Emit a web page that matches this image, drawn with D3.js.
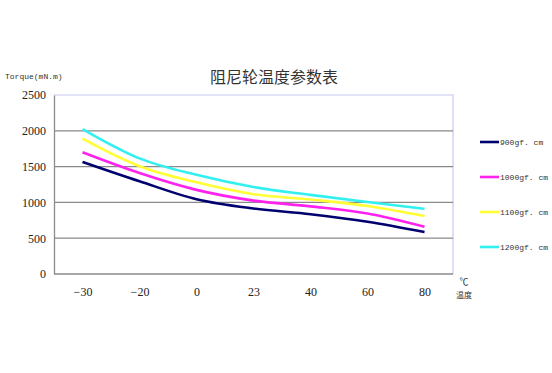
<!DOCTYPE html>
<html>
<head>
<meta charset="utf-8">
<script src="https://cdn.jsdelivr.net/npm/d3@7"></script>
<style>
  body { margin: 0; background: #fff; }
  svg { display: block; }
</style>
</head>
<body>
<div id="chart"></div>
<script>
// temperatures on the x axis (categories)
var temps = ["-30", "-20", "0", "23", "40", "60", "80"];
var yTicks = [0, 500, 1000, 1500, 2000, 2500];

// torque values
var s900  = [1565, 1295, 1045, 915, 835, 730, 585];
var s1000 = [1700, 1410, 1175, 1025, 945, 845, 660];
var s1100 = [1890, 1505, 1280, 1115, 1040, 950, 810];
var s1200 = [2025, 1615, 1385, 1215, 1105, 1005, 910];

var seriesNames = ["900gf.cm", "1000gf.cm", "1100gf.cm", "1200gf.cm"];
var seriesColors = ["#00006e", "#ff22ee", "#ffff33", "#33f0f0"];
var seriesData = [s900, s1000, s1100, s1200];

var W = 552, H = 373;
var plot = {left: 54, right: 453, top: 95, bottom: 274};
var serif = "'Liberation Serif', 'DejaVu Serif', serif";
var mono = "'Liberation Mono', 'DejaVu Sans Mono', monospace";
var cjk = "'Noto Sans CJK SC', sans-serif";

var svg = d3.select("#chart").append("svg")
    .attr("width", W)
    .attr("height", H);

var x = d3.scalePoint()
    .domain(temps)
    .range([plot.left, plot.right])
    .padding(0.5);

var y = d3.scaleLinear()
    .domain([0, 2500])
    .range([plot.bottom, plot.top]);

// frame top/right
svg.append("path")
    .attr("d", "M" + plot.left + "," + plot.top + "H" + plot.right + "V" + plot.bottom)
    .attr("fill", "none")
    .attr("stroke", "#c8c8f0")
    .attr("stroke-width", 1.2);

// grid lines
svg.append("g")
    .selectAll("line")
    .data(yTicks.filter(function(d) { return d > 0 && d < 2500; }))
    .enter().append("line")
    .attr("x1", plot.left)
    .attr("x2", plot.right)
    .attr("y1", function(d) { return y(d); })
    .attr("y2", function(d) { return y(d); })
    .attr("stroke", "#8a8a8a")
    .attr("stroke-width", 1.3);

// y axis
var yAxis = svg.append("g")
    .attr("transform", "translate(" + plot.left + ",0)")
    .call(d3.axisLeft(y).tickValues(yTicks).tickFormat(d3.format("d")).tickSize(0).tickPadding(8));
yAxis.select(".domain").attr("stroke", "#8a8a8a").attr("stroke-width", 1.3);
yAxis.selectAll("text")
    .style("font-family", serif)
    .style("font-size", "12px")
    .attr("fill", "#222");

// x axis
var xAxis = svg.append("g")
    .attr("transform", "translate(0," + plot.bottom + ")")
    .call(d3.axisBottom(x).tickSize(0).tickPadding(13));
xAxis.select(".domain")
    .attr("d", "M" + plot.left + ",0H" + plot.right)
    .attr("stroke", "#8a8a8a").attr("stroke-width", 1.3);
xAxis.selectAll("text")
    .text(function(d) { return d.replace("-", "\u2212"); })
    .style("font-family", serif)
    .style("font-size", "12px")
    .attr("fill", "#222");

// lines
var line = d3.line()
    .x(function(d, i) { return x(temps[i]); })
    .y(function(d) { return y(d); })
    .curve(d3.curveMonotoneX);

svg.append("g")
    .selectAll("path")
    .data(seriesData)
    .enter().append("path")
    .attr("d", line)
    .attr("fill", "none")
    .attr("stroke", function(d, i) { return seriesColors[i]; })
    .attr("stroke-width", 2.6);

// title
svg.append("text")
    .attr("x", 274)
    .attr("y", 83)
    .attr("text-anchor", "middle")
    .style("font-family", cjk)
    .style("font-size", "16px")
    .attr("fill", "#333")
    .text("阻尼轮温度参数表");

svg.append("text")
    .attr("x", 5)
    .attr("y", 79)
    .style("font-family", mono)
    .style("font-size", "8px")
    .attr("fill", "#333")
    .text("Torque(mN.m)");

svg.append("text")
    .attr("x", 464)
    .attr("y", 285)
    .attr("text-anchor", "middle")
    .style("font-family", cjk)
    .style("font-size", "9px")
    .attr("fill", "#333")
    .text("℃");

svg.append("text")
    .attr("x", 464)
    .attr("y", 298)
    .attr("text-anchor", "middle")
    .style("font-family", cjk)
    .style("font-size", "8px")
    .attr("fill", "#333")
    .text("温度");

// legend
var legend = svg.append("g")
    .selectAll("g")
    .data(seriesNames)
    .enter().append("g")
    .attr("transform", function(d, i) { return "translate(480," + (142 + i * 35) + ")"; });

legend.append("line")
    .attr("x1", 0).attr("x2", 19)
    .attr("stroke", function(d, i) { return seriesColors[i]; })
    .attr("stroke-width", 2.6);

legend.append("text")
    .attr("x", 20)
    .attr("y", 3)
    .style("font-family", mono)
    .style("font-size", "8px")
    .attr("fill", "#333")
    .text(function(d) { return d.replace(".", ". "); });
</script>
</body>
</html>
